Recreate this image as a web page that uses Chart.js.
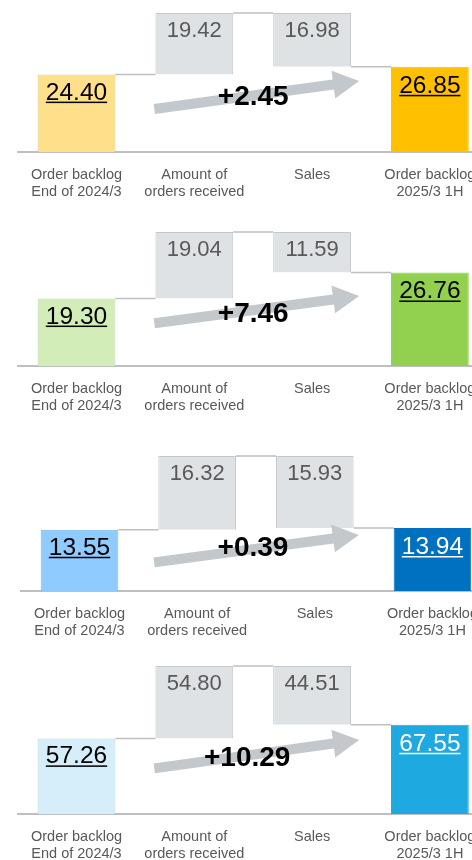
<!DOCTYPE html>
<html><head><meta charset="utf-8">
<script src="https://cdn.jsdelivr.net/npm/chart.js@4.4.1/dist/chart.umd.min.js"></script>
<style>
html,body{margin:0;padding:0;background:#fff;width:472px;height:860px;overflow:hidden;position:relative}
canvas{position:absolute;left:0}
</style></head><body>
<script>
// ---- data ----
const categories = [["Order backlog","End of 2024/3"],["Amount of","orders received"],["Sales"],["Order backlog","2025/3 1H"]];
const backlogStart = [24.40, 19.30, 13.55, 57.26];
const ordersReceived = [19.42, 19.04, 16.32, 54.80];
const salesAmount = [16.98, 11.59, 15.93, 44.51];
const backlogEnd = [26.85, 26.76, 13.94, 67.55];
const changeLabels = ["+2.45", "+7.46", "+0.39", "+10.29"];

// ---- layout / styles ----
const panelStyles = [
  {peakPx:12.5,  basePx:151,   left:17.6, startColor:'#FFE08A', startBorder:'#E6CB7C', endColor:'#FFC000', endText:'#000', arrowTail:43,   arrowTip:71, arrowDx:0,  deltaBase:47,   deltaDx:0},
  {peakPx:232,   basePx:366,   left:17.6, startColor:'#D3EDB8', startBorder:'#BDD8A3', endColor:'#92D050', endText:'#000', arrowTail:42.7, arrowTip:70, arrowDx:0,  deltaBase:44.3, deltaDx:0},
  {peakPx:455.7, basePx:590.3, left:20.7, startColor:'#8FCBFF', startBorder:'#7DB6E6', endColor:'#0070C0', endText:'#fff', arrowTail:28.6, arrowTip:56, arrowDx:-3, deltaBase:35.3, deltaDx:-3},
  {peakPx:665.7, basePx:813.3, left:17.6, startColor:'#D5EEF9', startBorder:'#BFD6E0', endColor:'#1EA9E0', endText:'#fff', arrowTail:45.6, arrowTip:74, arrowDx:0,  deltaBase:48.3, deltaDx:-6}
];
const FONT = "'Liberation Sans', Arial, Helvetica, sans-serif";
const GRAY_BAR = '#DFE2E5', GRAY_BORDER = '#C6C9CC', LINE = '#BFBFBF', ARROW = '#C2C8CB';
const PAD_TOP = 10, AXIS_H = 60, CAT_SPAN = 471.2;

Chart.defaults.font.family = FONT;

function drawArrow(ctx, x1, y1, x2, y2, shaftHalf, headLen, headHalf) {
  const dx = x2 - x1, dy = y2 - y1, L = Math.hypot(dx, dy);
  const ux = dx / L, uy = dy / L, nx = -uy, ny = ux;
  const bx = x2 - ux * headLen, by = y2 - uy * headLen;
  ctx.beginPath();
  ctx.moveTo(x1 + nx * shaftHalf, y1 + ny * shaftHalf);
  ctx.lineTo(bx + nx * shaftHalf, by + ny * shaftHalf);
  ctx.lineTo(bx + nx * headHalf, by + ny * headHalf);
  ctx.lineTo(x2, y2);
  ctx.lineTo(bx - nx * headHalf, by - ny * headHalf);
  ctx.lineTo(bx - nx * shaftHalf, by - ny * shaftHalf);
  ctx.lineTo(x1 - nx * shaftHalf, y1 - ny * shaftHalf);
  ctx.closePath();
  ctx.fill();
}

function makePanel(i) {
  const st = panelStyles[i];
  const start = backlogStart[i], orders = ordersReceived[i], sales = salesAmount[i], end = backlogEnd[i];
  const peak = start + orders;
  const canvas = document.createElement('canvas');
  const W = 492;
  const H = Math.round(PAD_TOP + (st.basePx - st.peakPx) + AXIS_H);
  canvas.width = W; canvas.height = H;
  canvas.style.width = W + 'px'; canvas.style.height = H + 'px';
  canvas.style.top = (st.peakPx - PAD_TOP) + 'px';
  document.body.appendChild(canvas);

  const barValues = [[0, start], [start, peak], [peak - sales, peak], [0, end]];
  const connectors = [start, peak, end];
  const labelTexts = [start, orders, sales, end].map(v => v.toFixed(2));

  const overlay = {
    id: 'overlay' + i,
    beforeDatasetsDraw(chart) {
      const ctx = chart.ctx, y = chart.scales.y;
      const bars = chart.getDatasetMeta(0).data;
      ctx.save();
      ctx.strokeStyle = LINE; ctx.lineWidth = 1.5;
      connectors.forEach((v, k) => {
        const a = bars[k], b = bars[k + 1];
        const py = y.getPixelForValue(v);
        ctx.beginPath();
        ctx.moveTo(a.x + a.width / 2, py);
        ctx.lineTo(b.x - b.width / 2, py);
        ctx.stroke();
      });
      ctx.restore();
    },
    afterDatasetsDraw(chart) {
      const ctx = chart.ctx, x = chart.scales.x;
      const bottom = chart.chartArea.bottom;
      const bars = chart.getDatasetMeta(0).data;
      ctx.save();
      // arrow
      ctx.fillStyle = ARROW;
      const ax1 = x.getPixelForValue(1) - 40 + st.arrowDx;
      const ax2 = x.getPixelForValue(2) + 47 + st.arrowDx;
      drawArrow(ctx, ax1, bottom - st.arrowTail, ax2, bottom - st.arrowTip, 5, 26, 14);
      // change label
      ctx.fillStyle = '#000';
      ctx.font = 'bold 28px ' + FONT;
      ctx.textAlign = 'center'; ctx.textBaseline = 'alphabetic';
      const cx = (x.getPixelForValue(1) + x.getPixelForValue(2)) / 2 + st.deltaDx;
      ctx.fillText(changeLabels[i], cx, bottom - st.deltaBase);
      // value labels
      bars.forEach((el, k) => {
        const top = Math.min(el.y, el.base);
        const colored = (k === 0 || k === 3);
        const size = colored ? 24.5 : 22;
        const color = k === 0 ? '#000' : (k === 3 ? st.endText : '#595959');
        const off = k === 0 ? 25 : (k === 3 ? 26 : 23.5);
        ctx.font = size + 'px ' + FONT;
        ctx.fillStyle = color;
        const base = top + off;
        ctx.fillText(labelTexts[k], el.x, base);
        if (colored) {
          const w = ctx.measureText(labelTexts[k]).width;
          ctx.fillRect(el.x - w / 2, base + 2, w, 1.5);
        }
      });
      ctx.restore();
    }
  };

  new Chart(canvas, {
    type: 'bar',
    data: {
      labels: categories,
      datasets: [{
        data: barValues,
        backgroundColor: [st.startColor, GRAY_BAR, GRAY_BAR, st.endColor],
        borderColor: [st.startBorder, GRAY_BORDER, GRAY_BORDER, st.endColor],
        borderWidth: 1,
        borderSkipped: 'bottom',
        barPercentage: 0.66,
        categoryPercentage: 1.0
      }]
    },
    options: {
      responsive: false,
      devicePixelRatio: 1,
      animation: false,
      layout: { padding: { top: PAD_TOP, left: st.left, right: W - st.left - CAT_SPAN, bottom: 0 } },
      plugins: { legend: { display: false }, tooltip: { enabled: false } },
      scales: {
        x: {
          offset: true,
          grid: { display: false, drawTicks: false },
          border: { display: true, color: LINE, width: 2 },
          ticks: { color: '#595959', font: { size: 14.5, family: FONT }, padding: 14, maxRotation: 0, autoSkip: false },
          afterFit(s) { s.height = AXIS_H; }
        },
        y: { display: false, min: 0, max: peak }
      }
    },
    plugins: [overlay]
  });
}

for (let i = 0; i < 4; i++) makePanel(i);
</script>
</body></html>
